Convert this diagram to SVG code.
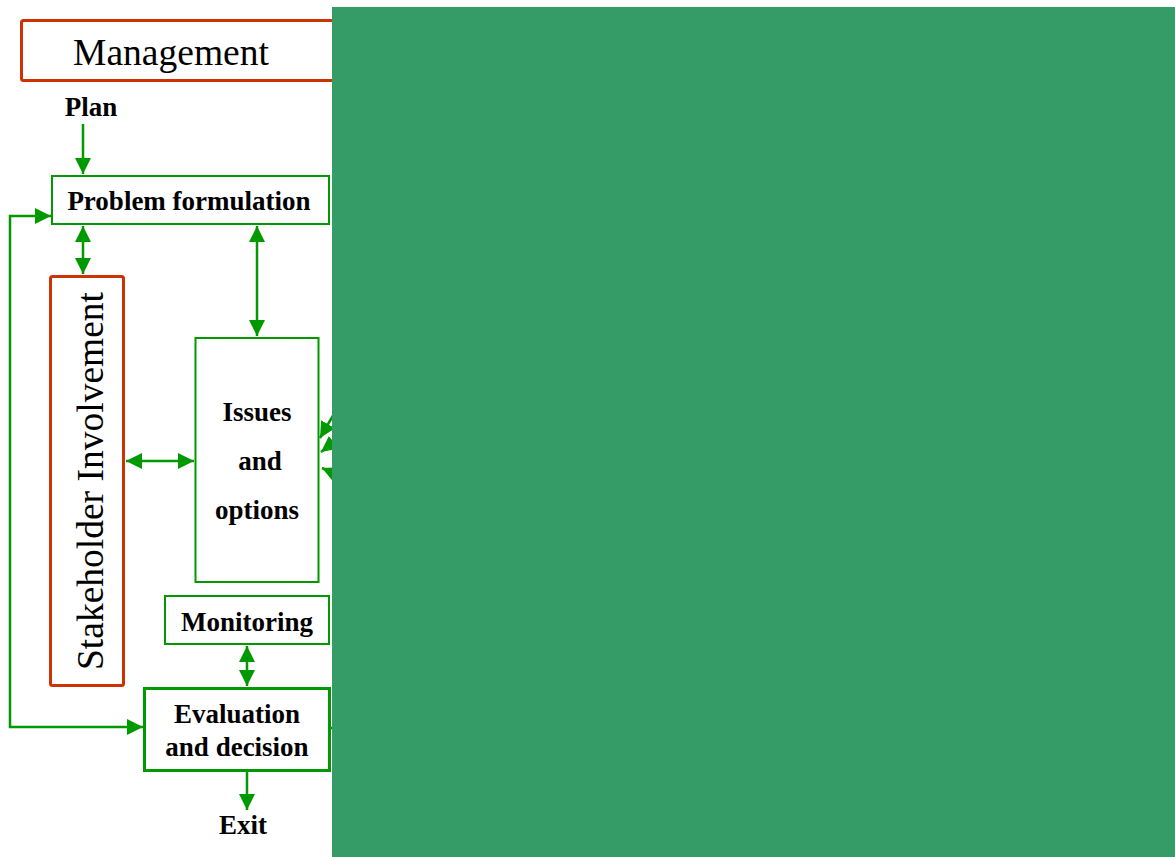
<svg xmlns="http://www.w3.org/2000/svg" width="1175" height="857" viewBox="0 0 1175 857">
  <defs>
    <marker id="ahb" viewBox="0 0 10 10" refX="10" refY="5" markerWidth="16" markerHeight="16" markerUnits="userSpaceOnUse" orient="auto-start-reverse">
      <path d="M0,0 L10,5 L0,10 z" fill="#009900"/>
    </marker>
  </defs>
  <style>
    .red { fill: #ffffff; stroke: #cc3300; stroke-width: 3; }
    .grn { fill: #ffffff; stroke: #009900; stroke-width: 2; }
    .grn3 { fill: #ffffff; stroke: #009900; stroke-width: 3; }
    .serif { font-family: "Liberation Serif", "Times New Roman", serif; fill: #000; }
    .bold { font-family: "Liberation Serif", "Times New Roman", serif; font-weight: bold; font-size: 27px; fill: #000; }
    .conn { fill: none; stroke: #009900; stroke-width: 2.5; }
  </style>
  <rect width="1175" height="857" fill="#ffffff"/>

  <g id="management">
    <rect class="red" x="21.5" y="20.5" width="330" height="60" rx="2"/>
    <text class="serif" x="171" y="65" font-size="37.5" text-anchor="middle">Management</text>
  </g>

  <g id="plan">
    <text class="bold" x="91" y="116" text-anchor="middle">Plan</text>
  </g>

  <g id="problem-formulation">
    <rect class="grn" x="52" y="176" width="277" height="48"/>
    <text class="bold" x="189" y="210" text-anchor="middle">Problem formulation</text>
  </g>

  <g id="stakeholder-involvement">
    <rect class="red" x="50.5" y="276.5" width="73" height="409" rx="2"/>
    <text class="serif" transform="translate(103,481) rotate(-90)" font-size="37.5" text-anchor="middle">Stakeholder Involvement</text>
  </g>

  <g id="issues-and-options">
    <rect class="grn" x="195.5" y="338" width="123" height="244"/>
    <text class="bold" x="257" y="421" text-anchor="middle">Issues</text>
    <text class="bold" x="260" y="470" text-anchor="middle">and</text>
    <text class="bold" x="257" y="519" text-anchor="middle">options</text>
  </g>

  <g id="monitoring">
    <rect class="grn" x="165" y="596" width="164" height="48"/>
    <text class="bold" x="247" y="631" text-anchor="middle">Monitoring</text>
  </g>

  <g id="evaluation-and-decision">
    <rect class="grn3" x="144.5" y="688.5" width="185" height="82"/>
    <text class="bold" x="237" y="723" text-anchor="middle">Evaluation</text>
    <text class="bold" x="237" y="756" text-anchor="middle">and decision</text>
  </g>

  <g id="exit">
    <text class="bold" x="243" y="834" text-anchor="middle">Exit</text>
  </g>

  <g id="connectors">
    <line class="conn" x1="83" y1="124" x2="83" y2="174" marker-end="url(#ahb)"/>
    <line class="conn" x1="83" y1="226" x2="83" y2="274" marker-start="url(#ahb)" marker-end="url(#ahb)"/>
    <line class="conn" x1="257" y1="226" x2="257" y2="336" marker-start="url(#ahb)" marker-end="url(#ahb)"/>
    <line class="conn" x1="126" y1="461" x2="194" y2="461" marker-start="url(#ahb)" marker-end="url(#ahb)"/>
    <line class="conn" x1="247" y1="646" x2="247" y2="686" marker-start="url(#ahb)" marker-end="url(#ahb)"/>
    <line class="conn" x1="247" y1="772" x2="247" y2="810" marker-end="url(#ahb)"/>
    <polyline class="conn" points="143,727 10,727 10,216 51,216" marker-start="url(#ahb)" marker-end="url(#ahb)"/>
    <line class="conn" x1="330" y1="728" x2="340" y2="728"/>
    <line class="conn" x1="345" y1="395" x2="320" y2="438" marker-end="url(#ahb)"/>
    <line class="conn" x1="350" y1="430" x2="321" y2="452" marker-end="url(#ahb)"/>
    <line class="conn" x1="360" y1="485" x2="322" y2="468" marker-end="url(#ahb)"/>
  </g>

  <rect x="332" y="7" width="843" height="850" fill="#369c67"/>
</svg>
